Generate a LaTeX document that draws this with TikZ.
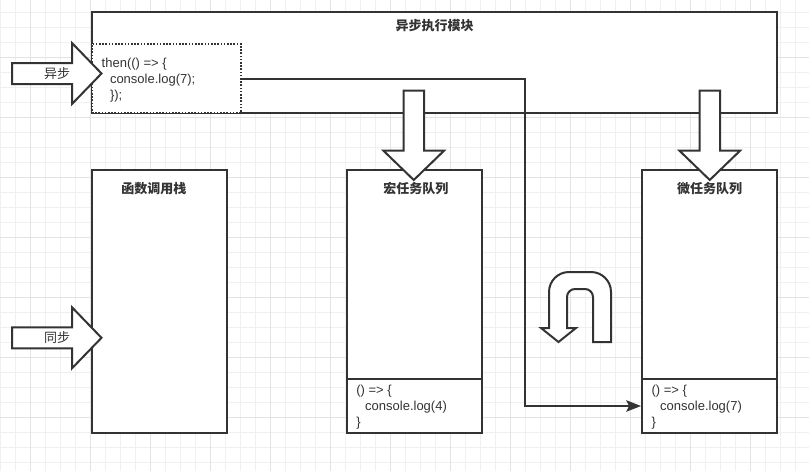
\documentclass[tikz,border=0pt]{standalone}
\usepackage{fontspec}
\setmainfont{Liberation Sans}
\newfontfamily\cjk{Noto Sans CJK SC}
\usepackage{tikz}
\usetikzlibrary{calc, fit, arrows.meta}
\definecolor{inkgray}{HTML}{333333}
\definecolor{gridminor}{HTML}{F0F0F0}
\definecolor{gridmajor}{HTML}{E3E3E3}

\begin{document}
\begin{tikzpicture}[x=0.75pt, y=-0.75pt,
		every node/.style={inner sep=0pt, text=inkgray, font=\fontsize{9.75}{12}\selectfont},
		box/.style={draw=inkgray, line width=1.5pt, fill=white, inner sep=0pt},
		cbbox/.style={box, line width=1.2pt, dash pattern=on 1.2pt off 1.2pt},
		blk/.style={draw=inkgray, line width=1.5pt, fill=white, line join=miter},
		title/.style={font=\cjk\bfseries\fontsize{9.75}{12}\selectfont},
		code/.style={align=left, anchor=west},
		conn/.style={draw=inkgray, line width=1.5pt, -{Stealth[length=11pt, width=8.5pt, inset=2pt]}}]
		\useasboundingbox[fill=white] (0,0) rectangle (809,471);
		%% background grid
		\foreach \g in {0,...,53} \draw[gridminor, line width=0.75pt] (0.7+15*\g,0) -- ++(0,471);
		\foreach \g in {-1,...,30} \draw[gridminor, line width=0.75pt] (0,12.3+15*\g) -- ++(809,0);
		\foreach \g in {0,...,13} \draw[gridmajor, line width=0.75pt] (30.7+60*\g,0) -- ++(0,471);
		\foreach \g in {-1,...,7} \draw[gridmajor, line width=0.75pt] (0,57.3+60*\g) -- ++(809,0);
		%% boxes
		\node[box, fit={(92,12)(777,113)}] (async) {};
		\node[cbbox, fit={(92,44)(241,113)}] (cb) {};
		\node[box, fit={(92,170)(227,433)}] (stack) {};
		\node[box, fit={(347,170)(482,433)}] (macro) {};
		\node[box, fit={(347,379)(482,433)}] (macrocode) {};
		\node[box, fit={(642,170)(777,433)}] (micro) {};
		\node[box, fit={(642,379)(777,433)}] (microcode) {};
		%% block arrows
		\foreach \cy/\nm/\lbl in {73.5/asyncin/异步, 337.8/syncin/同步}{
			\draw[blk] (12,\cy-10.5) -- ++(60,0) -- ++(0,-20) -- (101.5,\cy) -- (72,\cy+30.5) -- ++(0,-20) -- ++(-60,0) -- cycle;
			\node (\nm) at (57,\cy) {\cjk \lbl};
		}
		\foreach \cx in {413.75,709.75}
			\draw[blk] (\cx-10.25,90.5) -- ++(20.5,0) -- ++(0,60) -- ++(20.25,0) -- (\cx,180) -- (\cx-30.5,150.5) -- ++(20.25,0) -- cycle;
		%% u-turn
		\draw[blk] (593,342) -- (611,342) -- (611,292) arc[start angle=0, end angle=-90, radius=20] -- (569,272)
			arc[start angle=-90, end angle=-180, radius=20] -- (549,328) -- (541,328) -- (558.5,342) -- (576,328) -- (567,328) -- (567,297)
			arc[start angle=180, end angle=270, radius=8] -- (585,289) arc[start angle=270, end angle=360, radius=8] -- cycle;
		%% connector
		\coordinate (bend) at (525.3,78.5);
		\draw[conn] (cb.east) -- (bend) |- (microcode.west);
		%% texts
		\node[title] (asyncT) at ([yshift=-11.25pt]async.north) {异步执行模块};
		\node[title] (stackT) at ([xshift=-4.2pt, yshift=-15pt]stack.north) {函数调用栈};
		\node[title] (macroT) at ([xshift=1pt, yshift=-15pt]macro.north) {宏任务队列};
		\node[title] (microT) at ([yshift=-15pt]micro.north) {微任务队列};
		\node[code] (cbtext) at ([xshift=7.7pt, yshift=-1.5pt]cb.west) {then(() => \{\\\hspace*{6.2pt}console.log(7);\\\hspace*{6.2pt}\});};
		\node[code] (macrotext) at ([xshift=7.5pt, yshift=-0.5pt]macrocode.west) {() => \{\\\hspace*{6.7pt}console.log(4)\\\}};
		\node[code] (microtext) at ([xshift=7.7pt, yshift=-0.5pt]microcode.west) {() => \{\\\hspace*{6.5pt}console.log(7)\\\}};
\end{tikzpicture}
\end{document}
